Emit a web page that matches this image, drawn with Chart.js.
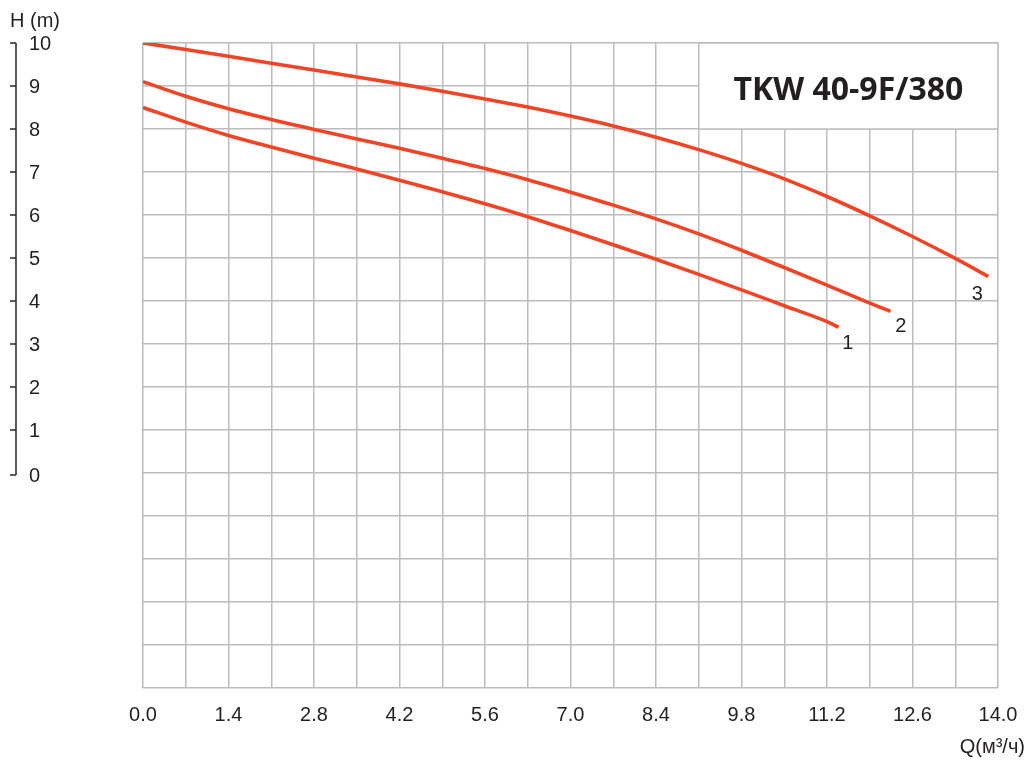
<!DOCTYPE html>
<html><head><meta charset="utf-8">
<script src="https://cdn.jsdelivr.net/npm/chart.js@4.4.0/dist/chart.umd.min.js"></script>
<style>html,body{margin:0;padding:0;background:#fff}#wrap{width:1029px;height:760px;position:relative}</style>
</head><body><div id="wrap"><canvas id="c"></canvas></div>
<script>
const chartTitle = 'TKW 40-9F/380';
const yAxisTitle = 'H (m)';
const xAxisTitle = 'Q(м³/ч)';
const curveNames = ['1', '2', '3'];
const xTickLabels = ['0.0','1.4','2.8','4.2','5.6','7.0','8.4','9.8','11.2','12.6','14.0'];
const yTickLabels = ['0','1','2','3','4','5','6','7','8','9','10'];

const q1 = [0,0.7,1.4,2.1,2.8,3.5,4.2,4.9,5.6,6.3,7.0,7.7,8.4,9.1,9.8,10.5,11.2,11.39];
const h1 = [8.50,8.16,7.85,7.58,7.32,7.07,6.81,6.54,6.26,5.96,5.64,5.31,4.97,4.62,4.26,3.89,3.52,3.39];
const q2 = [0,0.7,1.4,2.1,2.8,3.5,4.2,4.9,5.6,6.3,7.0,7.7,8.4,9.1,9.8,10.5,11.2,11.9,12.24];
const h2 = [9.10,8.76,8.47,8.22,7.99,7.77,7.55,7.32,7.08,6.82,6.53,6.23,5.91,5.56,5.18,4.78,4.37,3.95,3.76];
const q3 = [0,0.7,1.4,2.1,2.8,3.5,4.2,4.9,5.6,6.3,7.0,7.7,8.4,9.1,9.8,10.5,11.2,11.9,12.6,13.3,13.84];
const h3 = [10.0,9.85,9.69,9.53,9.37,9.21,9.05,8.88,8.70,8.51,8.30,8.07,7.81,7.52,7.20,6.84,6.43,5.98,5.50,4.99,4.57];

// curve label anchors (data units)
const labelQ = [11.54, 12.41, 13.66];
const labelH = [3.02, 3.40, 4.16];
// title box extent (data units)
const boxQ = [9.1, 14.0];
const boxH = [8, 10];

const RED = '#ef4527';
const GRID = '#bcbcbc';
const TXT = '#231f20';
const FONT = '"Liberation Sans", Arial, sans-serif';

function pts(q, h) { return q.map((v, i) => ({ x: v, y: h[i] })); }

const overlay = {
  id: 'overlay',
  beforeDatasetsDraw(chart) {
    const { ctx, scales: { x, y } } = chart;
    const x0 = x.getPixelForValue(boxQ[0]), x1 = x.getPixelForValue(boxQ[1]);
    const y0 = y.getPixelForValue(boxH[1]), y1 = y.getPixelForValue(boxH[0]);
    ctx.save();
    ctx.fillStyle = '#fff';
    ctx.fillRect(x0, y0, x1 - x0, y1 - y0);
    ctx.strokeStyle = GRID; ctx.lineWidth = 1.5;
    ctx.strokeRect(x0, y0, x1 - x0, y1 - y0);
    ctx.fillStyle = TXT;
    ctx.font = 'bold 32px "Open Sans", sans-serif';
    ctx.textAlign = 'center'; ctx.textBaseline = 'alphabetic';
    ctx.fillText(chartTitle, (x0 + x1) / 2, (y0 + y1) / 2 + 14);
    ctx.restore();
  },
  afterDraw(chart) {
    const { ctx, scales: { x, y } } = chart;
    ctx.save();
    ctx.font = '20px ' + FONT;
    ctx.fillStyle = TXT;
    // curve labels
    ctx.textAlign = 'center'; ctx.textBaseline = 'middle';
    curveNames.forEach((n, i) => ctx.fillText(n, x.getPixelForValue(labelQ[i]), y.getPixelForValue(labelH[i])));
    // left axis
    const ax = 16;
    const yTop = y.getPixelForValue(10), yBot = y.getPixelForValue(0) + 2;
    ctx.strokeStyle = '#333'; ctx.lineWidth = 1.6;
    ctx.beginPath(); ctx.moveTo(ax, yTop); ctx.lineTo(ax, yBot); ctx.stroke();
    ctx.textAlign = 'left'; ctx.textBaseline = 'middle';
    yTickLabels.forEach((t) => {
      const v = Number(t);
      const py = y.getPixelForValue(v) + (v === 0 ? 2 : 0);
      ctx.beginPath(); ctx.moveTo(10, py); ctx.lineTo(ax, py); ctx.stroke();
      ctx.fillText(t, 29, py + 1);
    });
    ctx.textBaseline = 'alphabetic';
    ctx.fillText(yAxisTitle, 10, 27);
    // x axis title
    ctx.textAlign = 'right';
    ctx.fillText(xAxisTitle, 1025, 753);
    ctx.restore();
  }
};

const mk = (q, h) => ({
  data: pts(q, h), borderColor: RED, borderWidth: 3.6, pointRadius: 0,
  cubicInterpolationMode: 'monotone', fill: false, borderCapStyle: 'butt'
});

new Chart(document.getElementById('c'), {
  type: 'line',
  data: { datasets: [mk(q1, h1), mk(q2, h2), mk(q3, h3)] },
  options: {
    responsive: true, maintainAspectRatio: false, animation: false, devicePixelRatio: 1,
    layout: { padding: { left: 143, right: 31, top: 43, bottom: 0 } },
    plugins: { legend: { display: false }, tooltip: { enabled: false } },
    scales: {
      x: {
        type: 'linear', min: 0, max: 14,
        afterBuildTicks(s) { s.ticks = Array.from({ length: 21 }, (_, i) => ({ value: i * 0.7 })); },
        afterFit(s) { s.height = 72; s.paddingLeft = 0; s.paddingRight = 0; },
        border: { display: false },
        grid: { color: GRID, lineWidth: 1.5, drawTicks: false },
        ticks: {
          autoSkip: false, maxRotation: 0, padding: 15, color: TXT,
          font: { family: FONT, size: 20 },
          callback(v, i) { return i % 2 === 0 ? xTickLabels[i / 2] : ''; }
        }
      },
      y: {
        type: 'linear', min: -5, max: 10,
        afterBuildTicks(s) { s.ticks = Array.from({ length: 16 }, (_, i) => ({ value: -5 + i })); },
        afterFit(s) { s.width = 0; s.paddingTop = 0; s.paddingBottom = 0; },
        border: { display: false },
        grid: { color: GRID, lineWidth: 1.5, drawTicks: false },
        ticks: { display: false }
      }
    }
  },
  plugins: [overlay]
});
</script>
</body></html>
